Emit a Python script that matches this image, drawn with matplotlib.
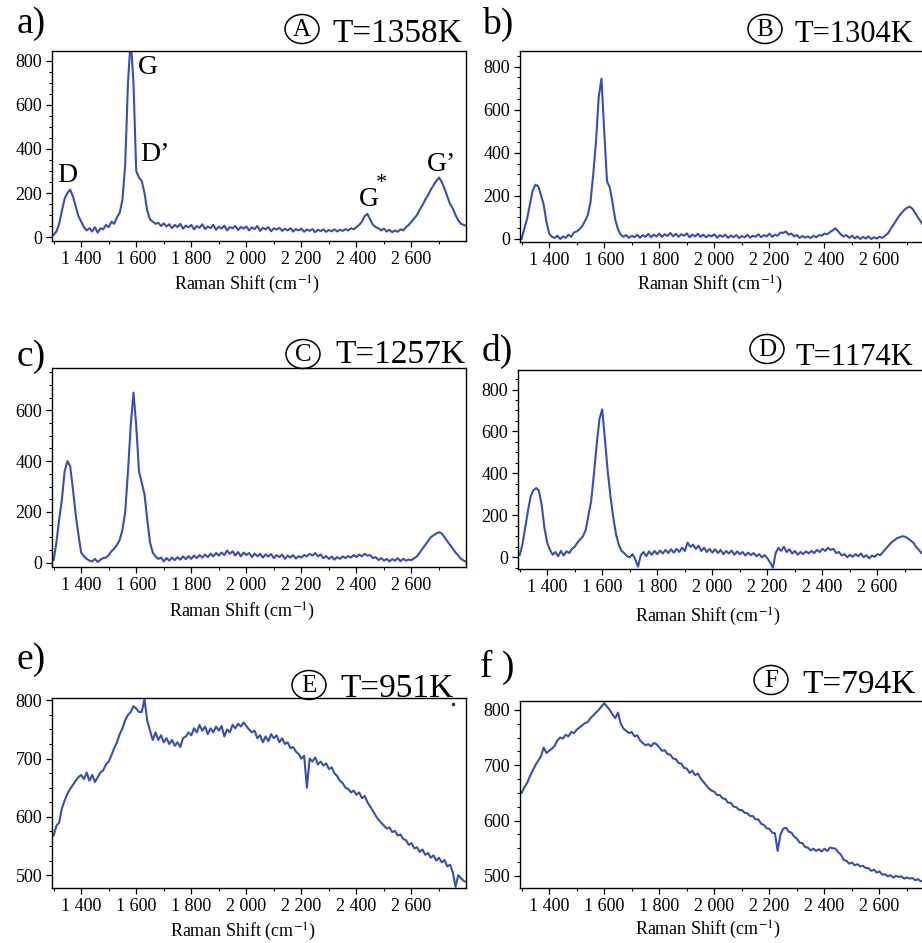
import numpy as np
import matplotlib
matplotlib.use("Agg")
import matplotlib.pyplot as plt
from matplotlib.ticker import FixedLocator, MultipleLocator, FuncFormatter
from matplotlib.patches import Ellipse

plt.rcParams['font.family'] = ['Liberation Serif', 'DejaVu Serif']
plt.rcParams['mathtext.fontset'] = 'stix'

# ---------------- data (Raman shift grid start / step, intensities) ----------------
shift_start = 1300
shift_step = 10

int_a = [10, 25, 60, 120, 175, 200, 215, 185, 140, 95,
         70, 45, 30, 40, 25, 45, 20, 40, 35, 55,
         45, 70, 60, 90, 110, 170, 330, 700, 900, 700,
         300, 270, 255, 200, 120, 80, 70, 60, 65, 50,
         62, 48, 58, 40, 55, 45, 60, 38, 52, 44,
         55, 35, 50, 42, 58, 36, 48, 40, 55, 33,
         47, 38, 52, 30, 45, 40, 50, 32, 46, 38,
         48, 30, 44, 36, 50, 28, 42, 35, 45, 26,
         40, 34, 42, 28, 38, 30, 40, 25, 36, 30,
         38, 24, 34, 28, 36, 22, 33, 27, 35, 24,
         32, 26, 35, 25, 33, 28, 36, 30, 40, 35,
         45, 55, 70, 95, 105, 80, 55, 45, 40, 30,
         38, 25, 33, 22, 30, 24, 35, 30, 45, 55,
         70, 85, 100, 125, 145, 170, 190, 215, 235, 255,
         270, 250, 220, 185, 150, 130, 100, 75, 60, 55,
         50]

int_b = [0, 50, 95, 160, 225, 252, 245, 205, 160, 80,
         25, 10, 5, 15, 0, 12, 5, 20, 10, 30,
         35, 45, 60, 83, 110, 170, 300, 450, 660, 745,
         500, 268, 240, 170, 90, 45, 20, 10, 18, 5,
         15, 8, 20, 5, 18, 10, 24, 8, 20, 12,
         25, 10, 22, 14, 28, 12, 24, 10, 22, 15,
         26, 8, 20, 12, 24, 10, 20, 8, 18, 12,
         22, 6, 18, 10, 20, 5, 16, 8, 18, 4,
         14, 8, 20, 6, 15, 10, 22, 8, 18, 12,
         25, 10, 20, 15, 30, 28, 35, 20, 25, 12,
         18, 5, 14, 6, 12, 4, 15, 8, 18, 15,
         25, 22, 32, 40, 50, 35, 20, 12, 18, 5,
         15, 3, 12, 0, 10, 2, 12, 0, 8, 2,
         10, 5, 15, 25, 45, 65, 85, 105, 120, 135,
         145, 150, 140, 120, 100, 80, 60, 45, 30, 20,
         15]

int_c = [10, 80, 170, 250, 360, 400, 380, 290, 190, 110,
         40, 25, 15, 8, 5, 15, 3, 12, 18, 20,
         30, 45, 55, 70, 90, 130, 200, 360, 540, 670,
         540, 360, 315, 270, 170, 80, 40, 25, 15, 20,
         5, 18, 8, 20, 10, 22, 12, 25, 14, 26,
         15, 28, 18, 30, 20, 32, 22, 35, 25, 38,
         28, 40, 30, 48, 35, 45, 28, 42, 25, 40,
         30, 38, 22, 36, 25, 35, 20, 33, 24, 34,
         18, 30, 22, 32, 15, 28, 20, 30, 16, 26,
         20, 30, 25, 35, 28, 38, 25, 33, 18, 26,
         15, 24, 12, 22, 15, 25, 18, 26, 20, 30,
         22, 32, 25, 35, 28, 30, 18, 22, 10, 18,
         8, 15, 5, 14, 8, 18, 6, 15, 8, 12,
         10, 18, 25, 40, 55, 70, 85, 100, 108, 115,
         120, 115, 100, 85, 70, 55, 40, 28, 15, 8,
         3]

int_d = [10, 60, 140, 220, 290, 320, 330, 318, 250, 140,
         70, 35, 12, 25, 5, 30, 8, 28, 20, 40,
         50, 70, 85, 100, 130, 200, 270, 400, 540, 660,
         705, 560, 410, 290, 190, 110, 60, 30, 20, 5,
         0, 15, -10, -45, 10, 25, 5, 28, 12, 30,
         15, 32, 18, 35, 20, 38, 22, 40, 25, 45,
         30, 70, 50, 60, 40, 55, 30, 45, 25, 40,
         22, 38, 20, 35, 15, 30, 18, 32, 12, 28,
         15, 25, 8, 22, 10, 20, 5, 15, 0, 10,
         -5, -25, -50, 20, 45, 30, 50, 25, 38, 18,
         30, 12, 25, 15, 28, 18, 30, 20, 35, 25,
         40, 30, 45, 35, 40, 20, 25, 8, 15, 0,
         12, 2, 15, 5, 18, 0, 10, -5, 8, 2,
         15, 10, 25, 40, 55, 70, 80, 90, 95, 100,
         98, 90, 80, 70, 50, 35, 20, 10, 5, 3,
         0]

int_e = [568, 585, 590, 615, 628, 640, 648, 655, 662, 668,
         672, 665, 676, 662, 672, 660, 668, 676, 680, 690,
         695, 706, 718, 728, 742, 752, 766, 775, 780, 790,
         786, 780, 780, 802, 765, 748, 732, 745, 732, 740,
         728, 735, 725, 732, 722, 728, 720, 735, 738, 745,
         740, 752, 745, 758, 748, 755, 742, 752, 745, 755,
         748, 756, 738, 750, 745, 758, 752, 760, 755, 762,
         756, 750, 745, 748, 735, 740, 728, 738, 730, 742,
         735, 740, 728, 735, 725, 728, 718, 720, 712, 708,
         700, 705, 650, 700, 695, 702, 690, 695, 688, 692,
         682, 685, 675, 670, 662, 658, 650, 648, 642, 645,
         638, 642, 632, 636, 625, 618, 610, 602, 595, 590,
         585, 580, 582, 574, 576, 568, 570, 562, 560, 552,
         555, 546, 548, 540, 544, 535, 538, 530, 534, 525,
         530, 522, 526, 515, 518, 505, 480, 500, 495, 490,
         488]

int_f = [650, 660, 668, 680, 690, 700, 708, 716, 732, 722,
         726, 730, 735, 745, 750, 748, 755, 752, 760, 758,
         764, 768, 772, 776, 778, 785, 790, 795, 800, 806,
         812, 806, 800, 792, 785, 795, 775, 766, 762, 758,
         760, 752, 754, 745, 740, 736, 738, 734, 740, 738,
         732, 726, 727, 720, 719, 712, 711, 704, 703, 695,
         694, 686, 690, 682, 685, 676, 670, 664, 658, 654,
         652, 646, 646, 640, 639, 632, 632, 625, 624, 619,
         619, 614, 613, 608, 608, 602, 602, 594, 592, 586,
         585, 578, 577, 545, 574, 585, 587, 580, 578, 571,
         567, 560, 559, 552, 551, 546, 549, 545, 548, 544,
         549, 545, 551, 550, 549, 543, 538, 529, 527, 522,
         524, 519, 521, 517, 518, 514, 514, 509, 511, 506,
         508, 502, 503, 499, 501, 497, 500, 498, 499, 495,
         497, 495, 496, 492, 494, 490, 492, 487, 489, 485,
         486]

stray_e = (2750, 793)

panel_letters = ['a', 'b', 'c', 'd', 'e', 'f']
circle_letters = ['A', 'B', 'C', 'D', 'E', 'F']
temperatures = ['T=1358K', 'T=1304K', 'T=1257K', 'T=1174K', 'T=951K', 'T=794K']
series = [int_a, int_b, int_c, int_d, int_e, int_f]
x_ticks = [1400, 1600, 1800, 2000, 2200, 2400, 2600]

# ---------------- layout (pixels) ----------------
W, H = 922, 943
fig = plt.figure(figsize=(W / 100, H / 100), dpi=100)

boxes = [(52, 51, 466, 241), (520, 51, 934, 242),
         (52, 368, 466, 567), (518, 370, 932, 569),
         (52, 698, 466, 888), (520, 701, 934, 888)]
ylims = [(-18, 845), (-14, 873), (-17, 767), (-56, 893), (478, 804), (478, 816)]
ymaj = [200, 200, 200, 200, 100, 100]
ymin = [50, 50, 50, 50, 25, 25]
ymaj_max = [800, 800, 600, 800, 800, 800]
ymaj_min = [0, 0, 0, 0, 500, 500]

lab_pos = [(17, 24), (482, 24), (17, 357), (482, 351), (17, 660), (480, 667)]
circ_pos = [(302, 29), (765, 29), (303, 354), (767, 349), (309, 685), (771, 680)]
temp_pos = [(332, 42), (794, 42), (335, 363), (795, 365), (340, 697), (802, 693)]
temp_size = [24, 22, 24, 22, 24, 24]
xlab_pos = [(247, 285), (710, 285), (242, 612), (708, 617), (243, 932), (708, 930)]

line_color = '#3a4db0'


def fmt_thousands(v, pos):
    v = int(round(v))
    return f"{v // 1000} {v % 1000:03d}"


for i, (l, t, r, b) in enumerate(boxes):
    ax = fig.add_axes([l / W, 1 - b / H, (r - l) / W, (b - t) / H])
    y = np.array(series[i], dtype=float)
    x = shift_start + shift_step * np.arange(len(y))
    ax.plot(x, y, color=line_color, lw=1.5)
    if i == 4:
        ax.plot([stray_e[0]], [stray_e[1]], 's', color='#333355', ms=2)
    ax.set_xlim(1294, 2798)
    ax.set_ylim(*ylims[i])
    ax.xaxis.set_major_locator(FixedLocator(x_ticks))
    ax.xaxis.set_minor_locator(MultipleLocator(100))
    ax.xaxis.set_major_formatter(FuncFormatter(fmt_thousands))
    ax.yaxis.set_major_locator(FixedLocator(list(range(ymaj_min[i], ymaj_max[i] + 1, ymaj[i]))))
    ax.yaxis.set_minor_locator(MultipleLocator(ymin[i]))
    ax.tick_params(which='major', direction='out', length=4, width=0.9, labelsize=13, pad=3)
    ax.tick_params(which='minor', direction='out', length=2.5, width=0.8)
    for sp in ax.spines.values():
        sp.set_linewidth(1.0)

    # panel label
    fig.text(lab_pos[i][0] / W, 1 - lab_pos[i][1] / H, panel_letters[i] + (' )' if i == 5 else ')'),
             fontsize=27, ha='left', va='center')
    # circled letter
    cx, cy = circ_pos[i]
    fig.add_artist(Ellipse((cx / W, 1 - cy / H), 34 / W, 29 / H, transform=fig.transFigure,
                           fill=False, ec='black', lw=1.1))
    fig.text(cx / W, 1 - (cy + 1) / H, circle_letters[i], fontsize=18, ha='center', va='center')
    # temperature
    fig.text(temp_pos[i][0] / W, 1 - temp_pos[i][1] / H, temperatures[i], fontsize=temp_size[i],
             ha='left', va='baseline')
    # x label
    fig.text(xlab_pos[i][0] / W, 1 - xlab_pos[i][1] / H, r'Raman Shift (cm$^{-1}$)',
             fontsize=13, ha='center', va='center')

    if i == 0:
        ann = dict(fontsize=20, va='center', ha='left')
        ax.text(1606, 770, 'G', **ann)
        ax.text(1312, 279, 'D', **ann)
        ax.text(1614, 374, 'D’', **ann)
        ax.text(2408, 170, 'G', **ann)
        ax.text(2470, 245, '*', fontsize=16, va='center', ha='left')
        ax.text(2657, 330, 'G’', **ann)

fig.savefig('out.png', dpi=100)
